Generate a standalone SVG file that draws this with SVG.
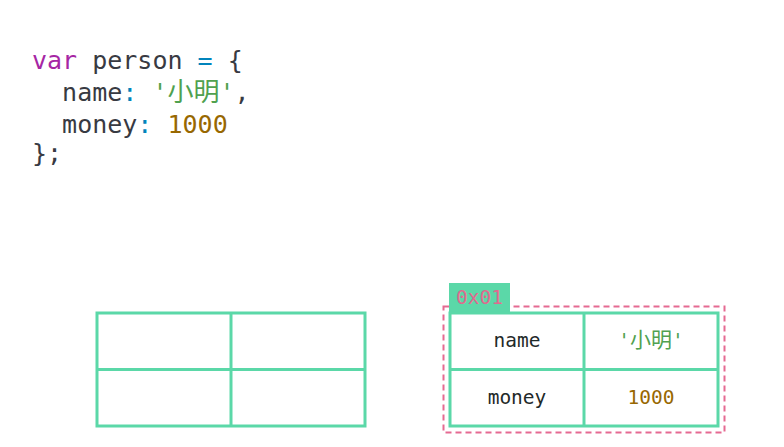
<svg xmlns="http://www.w3.org/2000/svg" width="784" height="447" viewBox="0 0 784 447">
  <style>
    .code { font-family: "DejaVu Sans Mono", "Noto Sans CJK SC", monospace; font-size: 25px; fill: #383a42; }
    .kw { fill: #a626a4; }
    .op { fill: #0184bc; }
    .str { fill: #50a14f; }
    .num { fill: #986801; }
    .cjk { font-size: 26px; }
    .cell { fill: #ffffff; stroke: #5bd8a8; stroke-width: 3; }
    .grid { stroke: #5bd8a8; stroke-width: 3; }
    .cellText { font-family: "DejaVu Sans Mono", "Noto Sans CJK SC", monospace; font-size: 19.5px; fill: #1f2a2a; text-anchor: middle; }
    .addr { font-family: "DejaVu Sans Mono", monospace; font-size: 19.5px; fill: #e06a8f; }
  </style>
  <rect width="784" height="447" fill="#ffffff"/>

  <!-- source code -->
  <g id="code">
    <text class="code" x="32" y="69" xml:space="preserve"><tspan class="kw">var</tspan> person <tspan class="op">=</tspan> {</text>
    <text class="code" x="32" y="101" xml:space="preserve">  name<tspan class="op">:</tspan> <tspan class="str">'<tspan class="cjk">小明</tspan>'</tspan>,</text>
    <text class="code" x="32" y="133" xml:space="preserve">  money<tspan class="op">:</tspan> <tspan class="num">1000</tspan></text>
    <text class="code" x="32" y="162">};</text>
  </g>

  <!-- empty table -->
  <g id="emptyTable">
    <rect class="cell" x="97" y="313" width="268" height="113"/>
    <line class="grid" x1="231" y1="313" x2="231" y2="426"/>
    <line class="grid" x1="97" y1="369.5" x2="365" y2="369.5"/>
  </g>

  <!-- object in heap at 0x01 -->
  <g id="heapObject">
    <rect x="443.5" y="306.5" width="281" height="126" fill="none" stroke="#e56a92" stroke-width="2" stroke-dasharray="6 4"/>
    <rect x="449" y="283" width="61" height="29" fill="#5bd8a8"/>
    <text class="addr" x="456" y="304">0x01</text>
    <rect class="cell" x="450" y="313" width="268" height="113"/>
    <line class="grid" x1="584" y1="313" x2="584" y2="426"/>
    <line class="grid" x1="450" y1="369.5" x2="718" y2="369.5"/>
    <text class="cellText" x="517" y="347">name</text>
    <text class="cellText" x="651" y="347" style="fill:#50a14f">'<tspan style="font-size:21px">小明</tspan>'</text>
    <text class="cellText" x="517" y="404">money</text>
    <text class="cellText" x="651" y="404" style="fill:#986801">1000</text>
  </g>
</svg>
